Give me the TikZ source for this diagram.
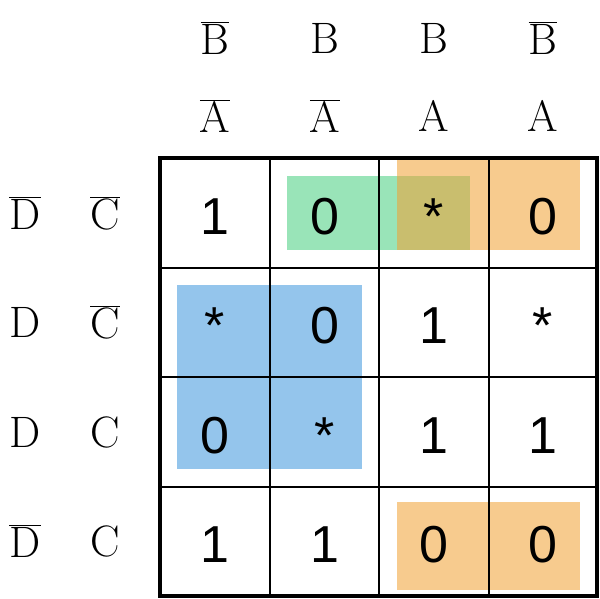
\RequirePackage{fix-cm}
\documentclass[tikz,border=0pt]{standalone}
\usepackage{fontspec}
\setsansfont{Liberation Sans}
\usepackage{tikz}
\definecolor{kgreen}{RGB}{70,205,125}
\definecolor{korange}{RGB}{240,160,50}
\definecolor{kblue}{RGB}{60,150,220}
\begin{document}
\begin{tikzpicture}[x=1pt,y=-1pt,
    cell/.style={font=\sffamily\fontsize{52}{56}\selectfont, inner sep=0pt},
    lab/.style={font=\fontsize{44}{48}\selectfont, inner sep=0pt},
    grp/.style={fill opacity=0.55, draw=none}]
    \useasboundingbox (0,0) rectangle (600,598);

    % groups
    \fill[kgreen, grp] (287,176) rectangle (470,250);
    \fill[korange, grp] (397,160) rectangle (580,250);
    \fill[korange, grp] (397,502) rectangle (580,590);
    \fill[kblue, grp] (177,285) rectangle (362,469);

    % grid
    \foreach \x in {270,379,489} \draw[line width=1.5pt] (\x,158) -- (\x,596);
    \foreach \y in {268,377,487} \draw[line width=1.5pt] (160,\y) -- (598,\y);
    \draw[line width=3.5pt] (160,158) rectangle (597,596);

    % column headers
    \foreach \i/\x/\b/\a in {1/215/\overline{\mathrm{B}}/\overline{\mathrm{A}},
                             2/325/\mathrm{B}/\overline{\mathrm{A}},
                             3/434/\mathrm{B}/\mathrm{A},
                             4/543/\overline{\mathrm{B}}/\mathrm{A}} {
        \node[lab] (b\i) at (\x,38) {$\b$};
        \node[lab] (a\i) at (\x,116) {$\a$};
    }

    % row headers
    \foreach \j/\y/\d/\c in {1/213/\overline{\mathrm{D}}/\overline{\mathrm{C}},
                             2/322/\mathrm{D}/\overline{\mathrm{C}},
                             3/432/\mathrm{D}/\mathrm{C},
                             4/541/\overline{\mathrm{D}}/\mathrm{C}} {
        \node[lab] (d\j) at (25,\y) {$\d$};
        \node[lab] (c\j) at (105,\y) {$\c$};
    }

    % cells
    \foreach \j/\y/\p/\q/\r/\s in {1/217/1/0/*/0, 2/326/*/0/1/*,
                                   3/436/0/*/1/1, 4/545/1/1/0/0} {
        \node[cell] (m\j-1) at (215,\y) {\p};
        \node[cell] (m\j-2) at (325,\y) {\q};
        \node[cell] (m\j-3) at (434,\y) {\r};
        \node[cell] (m\j-4) at (543,\y) {\s};
    }
\end{tikzpicture}
\end{document}
